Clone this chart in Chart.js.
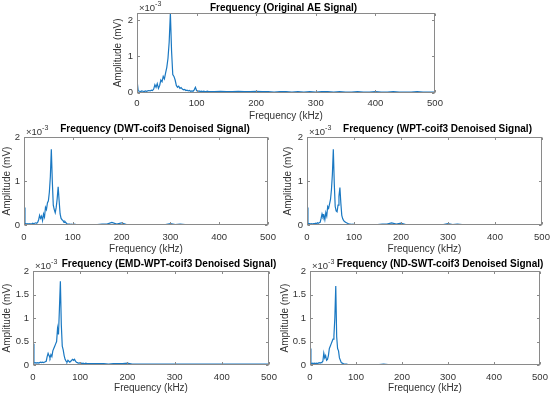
<!DOCTYPE html>
<html>
<head>
<meta charset="utf-8">
<title>Frequency spectra of AE signal</title>
<script src="https://cdn.jsdelivr.net/npm/chart.js@4.4.1/dist/chart.umd.min.js"></script>
<style>
  body { margin: 0; background: #fff; }
  #page { position: relative; width: 550px; height: 397px; overflow: hidden; background: #fff; }
  #page canvas { position: absolute; }
</style>
</head>
<body>
<div id="page"></div>
<script>
// ---------------- data ----------------
// frequency axis in kHz, shared by every panel
const freqKHz = [0,2,4,6,8,10,12,14,16,18,20,22,24,26,28,
  30,32,34,36,38,40,42,44,46,48,50,52,54,56,58,
  60,62,64,66,68,70,72,74,76,78,80,82,84,86,88,
  90,92,94,96,98,100,102,104,106,108,110,112,114,116,118,120,
  130,140,150,160,170,180,190,200,210,
  220,230,240,250,260,270,280,290,300,310,
  320,330,340,350,360,370,380,390,400,410,
  420,430,440,450,460,470,480,490,500];

// amplitudes in units of 1e-3 mV
const originalAE = [0.35,0.05,0.04,0.03,0.05,0.04,0.03,0.05,0.04,0.05,0.06,0.05,0.07,0.06,0.10,
  0.22,0.15,0.25,0.12,0.20,0.35,0.30,0.45,0.38,0.55,0.70,0.95,1.40,2.20,1.15,
  0.50,0.45,0.35,0.20,0.15,0.18,0.12,0.14,0.10,0.08,0.09,0.06,0.07,0.05,0.06,
  0.04,0.05,0.04,0.08,0.15,0.06,0.04,0.05,0.03,0.04,0.03,0.04,0.03,0.03,0.04,0.03,
  0.03,0.04,0.03,0.03,0.04,0.03,0.03,0.04,0.03,
  0.03,0.02,0.03,0.03,0.02,0.03,0.02,0.03,0.02,0.03,
  0.03,0.02,0.03,0.02,0.02,0.03,0.02,0.02,0.03,0.02,
  0.02,0.03,0.02,0.02,0.02,0.03,0.02,0.02,0.02];

const dwtCoif3 = [0.40,0.03,0.03,0.02,0.03,0.02,0.03,0.02,0.03,0.04,0.03,0.04,0.05,0.04,0.06,
  0.12,0.22,0.15,0.20,0.10,0.25,0.18,0.40,0.35,0.50,0.55,0.75,1.10,1.72,1.00,
  0.45,0.35,0.28,0.40,0.60,0.87,0.55,0.25,0.15,0.12,0.10,0.06,0.08,0.05,0.03,
  0.02,0.02,0.02,0.01,0.02,0.01,0.01,0.02,0.01,0.01,0.01,0.01,0.01,0.01,0.01,0.01,
  0.01,0.01,0.01,0.02,0.02,0.06,0.02,0.05,0.01,
  0.01,0.01,0.01,0.01,0.01,0.01,0.01,0.01,0.03,0.01,
  0.02,0.01,0.01,0.01,0.01,0.01,0.01,0.01,0.01,0.01,
  0.01,0.01,0.01,0.01,0.01,0.01,0.01,0.01,0.01];

const wptCoif3 = [0.40,0.04,0.03,0.03,0.02,0.03,0.02,0.03,0.03,0.04,0.03,0.05,0.04,0.05,0.06,
  0.15,0.25,0.18,0.22,0.12,0.28,0.20,0.42,0.38,0.48,0.58,0.80,1.15,1.72,0.95,
  0.42,0.32,0.30,0.45,0.65,0.85,0.50,0.22,0.14,0.10,0.08,0.06,0.05,0.04,0.03,
  0.02,0.02,0.01,0.02,0.01,0.02,0.01,0.01,0.01,0.01,0.01,0.01,0.01,0.01,0.01,0.01,
  0.01,0.01,0.01,0.02,0.02,0.05,0.02,0.04,0.01,
  0.01,0.01,0.01,0.01,0.01,0.01,0.01,0.01,0.03,0.01,
  0.02,0.01,0.01,0.01,0.01,0.01,0.01,0.01,0.01,0.01,
  0.01,0.01,0.01,0.01,0.01,0.01,0.01,0.01,0.01];

const emdWptCoif3 = [0.45,0.05,0.04,0.05,0.04,0.05,0.04,0.05,0.06,0.05,0.06,0.05,0.06,0.07,0.08,
  0.18,0.25,0.20,0.15,0.22,0.18,0.30,0.35,0.40,0.45,0.50,0.78,0.65,1.20,1.78,
  0.85,0.40,0.32,0.20,0.12,0.08,0.06,0.10,0.08,0.06,0.08,0.10,0.12,0.10,0.12,
  0.08,0.06,0.05,0.04,0.04,0.05,0.04,0.03,0.04,0.03,0.03,0.04,0.03,0.03,0.03,0.03,
  0.03,0.03,0.03,0.02,0.03,0.03,0.03,0.04,0.02,
  0.02,0.02,0.02,0.02,0.02,0.02,0.02,0.02,0.02,0.02,
  0.02,0.02,0.02,0.02,0.02,0.02,0.02,0.02,0.02,0.02,
  0.02,0.02,0.02,0.02,0.02,0.02,0.02,0.02,0.02];

const ndSwtCoif3 = [0.35,0.04,0.03,0.04,0.03,0.04,0.03,0.04,0.03,0.04,0.05,0.04,0.05,0.06,0.08,
  0.25,0.15,0.20,0.10,0.12,0.20,0.35,0.40,0.45,0.50,0.55,0.62,1.00,1.68,0.60,
  0.35,0.30,0.15,0.10,0.05,0.04,0.03,0.02,0.02,0.02,0.02,0.01,0.01,0.01,0.01,
  0.01,0.01,0.01,0.01,0.01,0.01,0.01,0.01,0.01,0.01,0.01,0.01,0.01,0.01,0.01,0.01,
  0.01,0.01,0.01,0.02,0.01,0.01,0.01,0.01,0.01,
  0.01,0.01,0.01,0.01,0.01,0.01,0.01,0.01,0.01,0.01,
  0.01,0.01,0.01,0.01,0.01,0.01,0.01,0.01,0.01,0.01,
  0.01,0.01,0.01,0.01,0.01,0.01,0.01,0.01,0.01];

// tick labels
const xTicks = [0, 100, 200, 300, 400, 500];
const yTicksWhole = [0, 1, 2];
const yTicksHalf = [0, 0.5, 1, 1.5, 2];

const FONT = '"Liberation Sans", Arial, Helvetica, sans-serif';
const LINE_BLUE = '#1a78c2';
const AXIS_GREY = '#8a8a8a';
const TEXT_GREY = '#333333';

// box: canvas [left, top, width, height], plot: chart area [left, top, right, bottom] (page px)
const panels = [
  { title: 'Frequency (Original AE Signal)', values: originalAE, yMax: 2.2, yTicks: yTicksWhole,
    box: [100, 0, 350, 125], plot: [137, 13, 435, 92.7],
    titleShift: -2.5, titleRise: 4.7, xTickPad: 5, xTitlePad: 2.3, yTitlePad: 12 },
  { title: 'Frequency (DWT-coif3 Denoised Signal)', values: dwtCoif3, yMax: 2, yTicks: yTicksWhole,
    box: [0, 121, 285, 135], plot: [24, 137, 268, 225],
    titleShift: 9, titleRise: 8, xTickPad: 7, xTitlePad: 0.3, yTitlePad: 0.8 },
  { title: 'Frequency (WPT-coif3 Denoised Signal)', values: wptCoif3, yMax: 2, yTicks: yTicksWhole,
    box: [275, 121, 285, 135], plot: [307, 137, 542, 225],
    titleShift: 13, titleRise: 8, xTickPad: 7, xTitlePad: 0.3, yTitlePad: 7 },
  { title: 'Frequency (EMD-WPT-coif3 Denoised Signal)', values: emdWptCoif3, yMax: 2, yTicks: yTicksHalf,
    box: [0, 256, 285, 141], plot: [33, 271, 269, 365],
    titleShift: 18, titleRise: 7, xTickPad: 6.5, xTitlePad: 2.3, yTitlePad: 1 },
  { title: 'Frequency (ND-SWT-coif3 Denoised Signal)', values: ndSwtCoif3, yMax: 2, yTicks: yTicksHalf,
    box: [275, 256, 285, 141], plot: [310, 271, 540, 365],
    titleShift: 15, titleRise: 7, xTickPad: 6.5, xTitlePad: 2.3, yTitlePad: 4 }
];

// draws the MATLAB style box, inward ticks, bold title and the x10^-3 exponent
const matlabAxes = {
  id: 'matlabAxes',
  afterDraw(chart, args, opts) {
    const { ctx, chartArea: a, scales } = chart;
    const left = Math.round(a.left) + 0.5, right = Math.round(a.right) - 0.5;
    const top = Math.round(a.top) + 0.5, bottom = Math.round(a.bottom) - 0.5;
    const tickLen = 2.5;
    ctx.save();
    ctx.strokeStyle = AXIS_GREY;
    ctx.lineWidth = 1;
    ctx.strokeRect(left, top, right - left, bottom - top);
    ctx.beginPath();
    for (let t of scales.x.ticks) {
      const px = Math.round(scales.x.getPixelForValue(t.value)) + 0.5;
      ctx.moveTo(px, bottom); ctx.lineTo(px, bottom - tickLen);
      ctx.moveTo(px, top); ctx.lineTo(px, top + tickLen);
    }
    for (let t of scales.y.ticks) {
      const py = Math.round(scales.y.getPixelForValue(t.value)) + 0.5;
      ctx.moveTo(left, py); ctx.lineTo(left + tickLen, py);
      ctx.moveTo(right, py); ctx.lineTo(right - tickLen, py);
    }
    ctx.stroke();

    // title
    ctx.fillStyle = '#000';
    ctx.font = 'bold 10px ' + FONT;
    ctx.textAlign = 'center';
    ctx.textBaseline = 'middle';
    ctx.fillText(opts.text, (a.left + a.right) / 2 + opts.shift, a.top - opts.rise);

    // exponent label
    ctx.fillStyle = TEXT_GREY;
    ctx.textAlign = 'left';
    ctx.textBaseline = 'alphabetic';
    ctx.font = '9.5px ' + FONT;
    const base = '\u00d710';
    ctx.fillText(base, a.left + 2, a.top - 2.5);
    const w = ctx.measureText(base).width;
    ctx.font = '7px ' + FONT;
    ctx.fillText('-3', a.left + 2 + w, a.top - 7);
    ctx.restore();
  }
};

const page = document.getElementById('page');

function makePanel(p) {
  const canvas = document.createElement('canvas');
  canvas.width = p.box[2];
  canvas.height = p.box[3];
  canvas.style.left = p.box[0] + 'px';
  canvas.style.top = p.box[1] + 'px';
  page.appendChild(canvas);

  const yWidth = p.plot[0] - p.box[0];
  const xHeight = p.box[1] + p.box[3] - p.plot[3];
  const points = freqKHz.map((f, i) => ({ x: f, y: p.values[i] }));

  new Chart(canvas, {
    type: 'line',
    data: {
      datasets: [{
        data: points,
        borderColor: LINE_BLUE,
        borderWidth: 1.2,
        pointRadius: 0,
        tension: 0,
        fill: false
      }]
    },
    options: {
      responsive: false,
      animation: false,
      devicePixelRatio: 1,
      layout: { padding: { left: 0, bottom: 0, top: p.plot[1] - p.box[1], right: p.box[0] + p.box[2] - p.plot[2] } },
      plugins: {
        legend: { display: false },
        tooltip: { enabled: false },
        matlabAxes: { text: p.title, shift: p.titleShift, rise: p.titleRise }
      },
      scales: {
        x: {
          type: 'linear', min: 0, max: 500,
          grid: { display: false, drawTicks: false },
          border: { display: false },
          afterBuildTicks: s => { s.ticks = xTicks.map(v => ({ value: v })); },
          afterFit: s => { s.height = xHeight; },
          ticks: { padding: p.xTickPad, color: TEXT_GREY, autoSkip: false, maxRotation: 0,
                   font: { family: FONT, size: 9.5 }, callback: v => String(v) },
          title: { display: true, text: 'Frequency (kHz)', color: TEXT_GREY,
                   font: { family: FONT, size: 10 }, padding: { top: 0, bottom: p.xTitlePad } }
        },
        y: {
          type: 'linear', min: 0, max: p.yMax,
          grid: { display: false, drawTicks: false },
          border: { display: false },
          afterBuildTicks: s => { s.ticks = p.yTicks.map(v => ({ value: v })); },
          afterFit: s => { s.width = yWidth; },
          ticks: { padding: 4, color: TEXT_GREY, autoSkip: false,
                   font: { family: FONT, size: 9.5 }, callback: v => String(v) },
          title: { display: true, text: 'Amplitude (mV)', color: TEXT_GREY,
                   font: { family: FONT, size: 10 }, padding: { top: p.yTitlePad, bottom: 0 } }
        }
      }
    },
    plugins: [matlabAxes]
  });
}

panels.forEach(makePanel);
</script>
</body>
</html>
